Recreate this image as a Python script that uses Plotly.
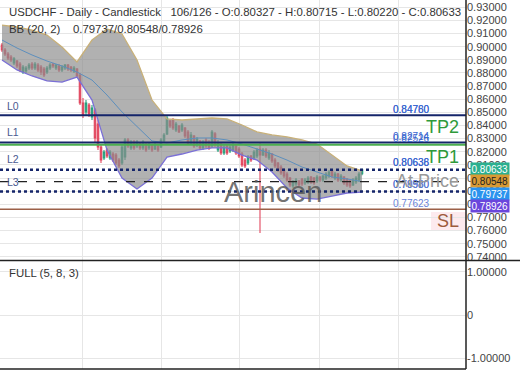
import plotly.graph_objects as go

# ---------------- data ----------------
opens = [0.9013, 0.8975, 0.8945, 0.8922, 0.8876, 0.8891, 0.8868, 0.8807, 0.8815, 0.8838,
         0.8868, 0.8838, 0.8861, 0.8845, 0.8830, 0.8807, 0.8838, 0.8868, 0.8838, 0.8853,
         0.8823, 0.8838, 0.8861, 0.8845, 0.8815, 0.8830, 0.8785, 0.8571, 0.8503, 0.8556,
         0.8465, 0.8518, 0.8411, 0.8236, 0.8153, 0.8213, 0.8153, 0.8183, 0.8175, 0.8137,
         0.8115, 0.8160, 0.8290, 0.8229, 0.8274, 0.8244, 0.8267, 0.8229, 0.8259, 0.8229,
         0.8252, 0.8221, 0.8244, 0.8236, 0.8282, 0.8336, 0.8434, 0.8442, 0.8366, 0.8396,
         0.8366, 0.8381, 0.8351, 0.8267, 0.8320, 0.8252, 0.8282, 0.8229, 0.8290, 0.8274,
         0.8244, 0.8336, 0.8213, 0.8259, 0.8191, 0.8244, 0.8206, 0.8213, 0.8244, 0.8221,
         0.8183, 0.8137, 0.8115, 0.8168, 0.8153, 0.8168, 0.8221, 0.8175, 0.8213, 0.8153,
         0.8183, 0.8137, 0.8115, 0.8084, 0.8061, 0.8031, 0.8000, 0.7939, 0.7955, 0.7978,
         0.7993, 0.7962, 0.7970, 0.8008, 0.8000, 0.7978, 0.8008, 0.7985, 0.8000, 0.8016,
         0.8054, 0.8000, 0.8031, 0.7985, 0.8008, 0.7993, 0.7978, 0.7947, 0.7970, 0.7985,
         0.80327]
highs = [0.9028, 0.8990, 0.8960, 0.8937, 0.8922, 0.8899, 0.8884, 0.8861, 0.8853, 0.8876,
         0.8884, 0.8884, 0.8876, 0.8861, 0.8845, 0.8853, 0.8876, 0.8876, 0.8868, 0.8868,
         0.8861, 0.8868, 0.8868, 0.8853, 0.8853, 0.8838, 0.8800, 0.8609, 0.8594, 0.8571,
         0.8556, 0.8533, 0.8442, 0.8252, 0.8213, 0.8229, 0.8213, 0.8198, 0.8191, 0.8153,
         0.8252, 0.8305, 0.8305, 0.8290, 0.8290, 0.8290, 0.8274, 0.8290, 0.8267, 0.8274,
         0.8259, 0.8267, 0.8252, 0.8305, 0.8343, 0.8480, 0.8442, 0.8457, 0.8427, 0.8404,
         0.8419, 0.8389, 0.8366, 0.8351, 0.8328, 0.8313, 0.8290, 0.8290, 0.8305, 0.8290,
         0.8366, 0.8351, 0.8290, 0.8267, 0.8252, 0.8252, 0.8252, 0.8267, 0.8252, 0.8236,
         0.8198, 0.8153, 0.8175, 0.8175, 0.8213, 0.8229, 0.8274, 0.8229, 0.8229, 0.8213,
         0.8191, 0.8153, 0.8122, 0.8099, 0.8076, 0.8046, 0.8008, 0.7985, 0.8000, 0.7985,
         0.8000, 0.8000, 0.8016, 0.8016, 0.8008, 0.8023, 0.8016, 0.8023, 0.8046, 0.8061,
         0.8061, 0.8046, 0.8038, 0.8031, 0.8016, 0.8000, 0.7985, 0.8000, 0.8016, 0.8046,
         0.80715]
lows = [0.8960, 0.8929, 0.8899, 0.8884, 0.8861, 0.8838, 0.8807, 0.8792, 0.8800, 0.8823,
        0.8823, 0.8823, 0.8807, 0.8785, 0.8769, 0.8792, 0.8823, 0.8838, 0.8823, 0.8807,
        0.8807, 0.8823, 0.8815, 0.8807, 0.8800, 0.8762, 0.8556, 0.8457, 0.8480, 0.8465,
        0.8442, 0.8274, 0.8213, 0.8115, 0.8137, 0.8153, 0.8137, 0.8122, 0.8099, 0.8076,
        0.8099, 0.8137, 0.8229, 0.8213, 0.8213, 0.8229, 0.8213, 0.8213, 0.8198, 0.8213,
        0.8198, 0.8213, 0.8198, 0.8229, 0.8274, 0.8328, 0.8381, 0.8366, 0.8351, 0.8343,
        0.8351, 0.8305, 0.8252, 0.8252, 0.8229, 0.8236, 0.8213, 0.8213, 0.8229, 0.8213,
        0.8229, 0.8236, 0.8198, 0.8175, 0.8175, 0.8175, 0.8191, 0.8198, 0.8175, 0.8153,
        0.8084, 0.8076, 0.8099, 0.8122, 0.8137, 0.8153, 0.7582, 0.8168, 0.8153, 0.8137,
        0.8115, 0.8076, 0.8046, 0.8023, 0.8000, 0.7970, 0.7932, 0.7924, 0.7939, 0.7932,
        0.7939, 0.7947, 0.7955, 0.7955, 0.7947, 0.7962, 0.7970, 0.7970, 0.7985, 0.8000,
        0.8000, 0.7985, 0.7970, 0.7970, 0.7947, 0.7932, 0.7924, 0.7939, 0.7955, 0.7970,
        0.80220]
closes = [0.8975, 0.8945, 0.8914, 0.8899, 0.8907, 0.8853, 0.8823, 0.8845, 0.8838, 0.8861,
          0.8838, 0.8868, 0.8823, 0.8807, 0.8785, 0.8838, 0.8861, 0.8853, 0.8861, 0.8823,
          0.8845, 0.8861, 0.8830, 0.8823, 0.8838, 0.8777, 0.8571, 0.8480, 0.8571, 0.8488,
          0.8533, 0.8305, 0.8236, 0.8137, 0.8198, 0.8168, 0.8198, 0.8137, 0.8115, 0.8092,
          0.8236, 0.8290, 0.8244, 0.8274, 0.8229, 0.8274, 0.8229, 0.8274, 0.8213, 0.8259,
          0.8213, 0.8252, 0.8213, 0.8290, 0.8328, 0.8457, 0.8396, 0.8381, 0.8411, 0.8351,
          0.8404, 0.8320, 0.8267, 0.8328, 0.8244, 0.8298, 0.8229, 0.8274, 0.8244, 0.8229,
          0.8351, 0.8252, 0.8267, 0.8191, 0.8236, 0.8191, 0.8236, 0.8252, 0.8191, 0.8168,
          0.8099, 0.8092, 0.8160, 0.8137, 0.8198, 0.8213, 0.8175, 0.8213, 0.8168, 0.8191,
          0.8130, 0.8092, 0.8061, 0.8038, 0.8016, 0.7985, 0.7947, 0.7970, 0.7985, 0.7947,
          0.7955, 0.7985, 0.8000, 0.7970, 0.7962, 0.8008, 0.7985, 0.8016, 0.8031, 0.8046,
          0.8016, 0.8031, 0.7985, 0.8016, 0.7962, 0.7947, 0.7939, 0.7985, 0.8000, 0.8031,
          0.80633]
bars = list(range(len(closes)))

band_bars = list(range(0, 121, 5))
bb_upper = [0.9165, 0.9150, 0.9127, 0.9089, 0.8998, 0.8884, 0.9051, 0.9135, 0.9097, 0.8899,
            0.8594, 0.8450, 0.8442, 0.8450, 0.8457, 0.8450, 0.8404, 0.8351, 0.8328, 0.8313,
            0.8290, 0.8259, 0.8175, 0.8092, 0.80548]
bb_mid = [0.9051, 0.8990, 0.8937, 0.8891, 0.8853, 0.8807, 0.8746, 0.8632, 0.8503, 0.8389,
          0.8282, 0.8267, 0.8290, 0.8305, 0.8305, 0.8290, 0.8259, 0.8221, 0.8183, 0.8137,
          0.8084, 0.8046, 0.8008, 0.7993, 0.79737]
bb_lower = [0.8899, 0.8823, 0.8777, 0.8739, 0.8731, 0.8769, 0.8594, 0.8213, 0.8000, 0.7917,
            0.8000, 0.8160, 0.8183, 0.8213, 0.8229, 0.8229, 0.8175, 0.8137, 0.8046, 0.7924,
            0.7848, 0.7840, 0.7863, 0.7886, 0.78926]

price_ticks = [0.74, 0.75, 0.76, 0.77, 0.78, 0.79, 0.80, 0.81, 0.82, 0.83,
               0.84, 0.85, 0.86, 0.87, 0.88, 0.89, 0.90, 0.91, 0.92, 0.93]
osc_ticks = [1, 0, -1]
osc_tick_labels = ["1.00000", "0", "-1.00000"]
month_grid = [26.7, 53.0, 79.0, 105.7, 132.0]

level_L0 = 0.84780
level_L1 = 0.82714
level_TP = 0.82526
level_L2 = 0.80638
level_at = 0.79729
level_L3 = 0.78980
level_SL = 0.77623

value_boxes = ["0.80633", "0.80548", "0.79737", "0.78926"]
value_colors = ["#2bb08f", "#d89a34", "#2a93ee", "#6a46dc"]
value_font = ["white", "#222222", "white", "white"]

# ---------------- figure ----------------
W, H = 520, 390
PLOT_H = 369.0
PLOT_W = 466.0
FONT = "Liberation Sans, Arial, sans-serif"

fig = go.Figure()

fig.add_trace(go.Scatter(x=band_bars, y=bb_upper, mode="lines",
                         line=dict(color="#c8b078", width=1.3), hoverinfo="skip",
                         showlegend=False))
fig.add_trace(go.Scatter(x=band_bars, y=bb_lower, mode="lines", fill="tonexty",
                         fillcolor="rgba(140,140,140,0.68)",
                         line=dict(color="#7a6fd6", width=1.3), hoverinfo="skip",
                         showlegend=False))
fig.add_trace(go.Scatter(x=band_bars, y=bb_mid, mode="lines",
                         line=dict(color="#5d8fbd", width=1), hoverinfo="skip",
                         showlegend=False))

fig.add_trace(go.Candlestick(
    x=bars, open=opens, high=highs, low=lows, close=closes,
    increasing=dict(line=dict(color="#27a17e", width=1.1), fillcolor="#27a17e"),
    decreasing=dict(line=dict(color="#e2475f", width=1.1), fillcolor="#e2475f"),
    whiskerwidth=0, showlegend=False))

fig.add_trace(go.Scatter(x=[0], y=[None], xaxis="x2", yaxis="y2",
                         mode="lines", showlegend=False, hoverinfo="skip"))

main_dom = [1 - 260.5 / PLOT_H, 1]
osc_dom = [0, 108.0 / PLOT_H]

fig.update_layout(
    width=W, height=H,
    margin=dict(l=0, r=54, t=0, b=21, autoexpand=False),
    paper_bgcolor="white", plot_bgcolor="white",
    font=dict(family=FONT, size=11, color="#444"),
    xaxis=dict(range=[-0.667, 154.667], rangeslider=dict(visible=False),
               tickvals=month_grid, showticklabels=False, showgrid=True,
               gridcolor="#e6e6e6", zeroline=False, anchor="y", ticks="",
               automargin=False),
    xaxis2=dict(range=[-0.667, 154.667], matches="x", tickvals=month_grid,
                showticklabels=False, showgrid=True, gridcolor="#e6e6e6",
                zeroline=False, anchor="y2", ticks="", automargin=False),
    yaxis=dict(domain=main_dom, side="right", range=[0.73722, 0.93556],
               tickvals=price_ticks, ticktext=[f"{v:.5f}" for v in price_ticks],
               showgrid=True, gridcolor="#e6e6e6", zeroline=False, ticks="",
               ticklen=0, automargin=False,
               tickfont=dict(size=11, color="#444"), anchor="x"),
    yaxis2=dict(domain=osc_dom, side="right", range=[-1.25, 1.25],
                tickvals=osc_ticks, ticktext=osc_tick_labels, showgrid=True,
                gridcolor="#e6e6e6", zeroline=False, ticks="", ticklen=0,
                automargin=False,
                tickfont=dict(size=11, color="#444"), anchor="x2"),
    hovermode=False,
)

shapes = []
def hline(y, color, width, dash="solid"):
    shapes.append(dict(type="line", xref="paper", x0=0, x1=1, yref="y", y0=y, y1=y,
                       line=dict(color=color, width=width, dash=dash), layer="above"))

def py(px):
    return (PLOT_H - px) / PLOT_H

shapes.append(dict(type="rect", xref="paper", x0=431 / PLOT_W, x1=1, yref="paper",
                   y0=py(231), y1=py(212),
                   fillcolor="#fdeaee", line=dict(width=0), layer="below"))

hline(level_L0, "#15256a", 2)
hline(level_L1, "#15256a", 2)
hline(level_TP, "#4caf50", 2)
hline(level_L2, "#15256a", 2.5, "dot")
hline(level_at, "#222222", 1.2, "dash")
hline(level_L3, "#15256a", 2.5, "dot")
hline(level_SL, "#9c6048", 1.5)

shapes.append(dict(type="line", xref="paper", x0=1, x1=1, yref="paper", y0=0, y1=1,
                   line=dict(color="#222", width=1.5)))
shapes.append(dict(type="line", xref="paper", x0=0, x1=520 / PLOT_W, yref="paper",
                   y0=main_dom[0], y1=main_dom[0], line=dict(color="#222", width=1.5)))
shapes.append(dict(type="line", xref="paper", x0=0, x1=1, yref="paper",
                   y0=0, y1=0, line=dict(color="#222", width=1.5)))
fig.update_layout(shapes=shapes)

ann = []
def text(x, y, s, size, color, xanchor="left", **kw):
    ann.append(dict(x=x, y=y, xref="paper", yref="paper", text=s, showarrow=False,
                    xanchor=xanchor, yanchor="middle",
                    font=dict(family=FONT, size=size, color=color), **kw))

text(7 / PLOT_W, py(12), "USDCHF - Daily - Candlestick&nbsp;&nbsp; 106/126 - O:0.80327 - H:0.80715 - L:0.80220 - C:0.80633", 11.4, "#333")
text(7 / PLOT_W, py(29), "BB (20, 2)&nbsp;&nbsp;&nbsp; 0.79737/0.80548/0.78926", 11.4, "#333")
text(7 / PLOT_W, py(273), "FULL (5, 8, 3)", 11.4, "#333")

for lab, ypx in [("L0", 105.7), ("L1", 132), ("L2", 158.7), ("L3", 181.7)]:
    text(5 / PLOT_W, py(ypx), lab, 10.5, "#4a5a90")

LX = 432 / PLOT_W
text(LX, py(109), "0.84760", 10, "#3a66d0", xanchor="right")
text(LX, py(109), "0.84780", 10, "#3a66d0", xanchor="right")
text(LX, py(136), "0.82714", 10, "#3a66d0", xanchor="right")
text(LX, py(138), "0.82526", 10, "#3a66d0", xanchor="right")
text(LX, py(163), "0.80636", 10, "#3a66d0", xanchor="right")
text(LX, py(163), "0.80638", 10, "#3a66d0", xanchor="right")
text(LX, py(184.5), "0.78980", 10, "#5a78d0", xanchor="right")
text(LX, py(184.5), "0.79580", 10, "#5a78d0", xanchor="right")
text(LX, py(203), "0.77623", 10, "#6a84d8", xanchor="right")

text(461 / PLOT_W, py(127), "TP2", 18, "#2e9a3a", xanchor="right")
text(461 / PLOT_W, py(157), "TP1", 18, "#2e9a3a", xanchor="right")
text(461 / PLOT_W, py(181), "At Price", 18, "#999999", xanchor="right")
text(461 / PLOT_W, py(221), "SL", 18, "#9c5a3c", xanchor="right")

text(273 / PLOT_W, py(192), "Arincen", 29, "rgba(90,90,90,0.85)", xanchor="center")

for s, c, fc, ypx in zip(value_boxes, value_colors, value_font, [169, 181.5, 193.5, 205.5]):
    ann.append(dict(x=1, y=py(ypx), xref="paper", yref="paper", text=s, showarrow=False,
                    xanchor="left", yanchor="middle", xshift=4,
                    font=dict(family=FONT, size=10, color=fc), bgcolor=c,
                    borderpad=0.5))

fig.update_layout(annotations=ann)

fig.write_html("out.html", config={"displayModeBar": False, "staticPlot": True},
               post_script="document.body.style.margin='0';document.body.style.overflow='hidden';")
